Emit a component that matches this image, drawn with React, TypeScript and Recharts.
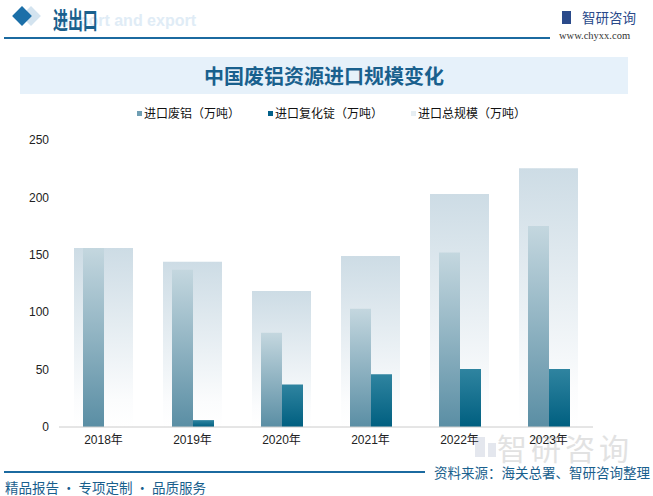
import React from 'react';
import { Bar, BarChart, XAxis, YAxis } from 'recharts';

const years = ['2018年', '2019年', '2020年', '2021年', '2022年', '2023年'];
const scrapAl = [156, 137, 82, 103, 152, 175];
const alloyIngot = [0, 6, 37, 46, 50.5, 50.5];
const totalScale = [156, 144, 118.5, 149, 203, 225.5];
const yTicks = [0, 50, 100, 150, 200, 250];

const seriesNames = ['进口废铝（万吨）', '进口复化锭（万吨）', '进口总规模（万吨）'];
const legendColors = ['#6f9eb3', '#03618a', '#e6eef3'];

const data = years.map((year, i) => ({
  year,
  scrap: scrapAl[i],
  alloy: alloyIngot[i],
  total: totalScale[i],
}));

const dark = '#19608d';
const cjk = '"Noto Sans CJK SC", "Noto Sans", sans-serif';
const tickFont = { fontSize: 12, fill: '#222', fontFamily: '"Liberation Sans", "Noto Sans CJK SC", sans-serif' };

const Header = () => (
  <>
    <div style={{ position: 'absolute', left: 24, top: 9, width: 14, height: 14, background: '#d3e3ef', transform: 'rotate(45deg)' }} />
    <div style={{ position: 'absolute', left: 15, top: 9, width: 14, height: 14, background: '#1b6fa8', transform: 'rotate(45deg)' }} />
    <div style={{ position: 'absolute', left: 60, top: 12, fontSize: 16, lineHeight: '18px', fontWeight: 700, color: '#e0ecf6', fontFamily: '"Liberation Sans", sans-serif', whiteSpace: 'nowrap' }}>
      import and export
    </div>
    <div style={{ position: 'absolute', left: 53, top: 4, fontSize: 24, lineHeight: '30px', fontWeight: 700, color: dark, fontFamily: cjk, transform: 'scaleX(0.62)', transformOrigin: 'left top', whiteSpace: 'nowrap' }}>进出口</div>
    <div style={{ position: 'absolute', left: 4, top: 37, width: 546, height: 2, background: '#1b6aa0' }} />
    <div style={{ position: 'absolute', left: 562, top: 11, width: 9, height: 13, background: '#2a4a8a' }} />
    <div style={{ position: 'absolute', left: 582, top: 8, fontSize: 13.5, lineHeight: '18px', color: '#2a4a8a', fontFamily: cjk }}>智研咨询</div>
    <div style={{ position: 'absolute', left: 559, top: 30, fontSize: 10.5, lineHeight: '12px', color: '#333', fontFamily: '"Liberation Serif", serif', whiteSpace: 'nowrap' }}>www.chyxx.com</div>
    <div style={{ position: 'absolute', left: 20, top: 57, width: 608, height: 37, background: '#e6f1fa' }} />
    <div style={{ position: 'absolute', left: 20, top: 57, width: 608, height: 37, lineHeight: '37px', textAlign: 'center', fontSize: 20, fontWeight: 700, color: dark, fontFamily: cjk }}>
      中国废铝资源进口规模变化
    </div>
  </>
);

const LegendRow = () => (
  <div style={{ position: 'absolute', left: 0, top: 105, width: 653, display: 'flex', justifyContent: 'center', gap: 28, fontSize: 12, lineHeight: '16px', color: '#111', fontFamily: cjk }}>
    {seriesNames.map((name, i) => (
      <span key={name} style={{ display: 'flex', alignItems: 'center', marginLeft: i === 0 ? 10 : 0 }}>
        <span style={{ width: 5, height: 5, background: legendColors[i], marginRight: 2, display: 'inline-block' }} />
        {name}
      </span>
    ))}
  </div>
);

const Watermark = () => (
  <>
    <div style={{ position: 'absolute', left: 475, top: 437, width: 10, height: 20, background: '#e4e7ee' }} />
    <div style={{ position: 'absolute', left: 488, top: 443, width: 8, height: 14, background: '#e4e7ee' }} />
    <div style={{ position: 'absolute', left: 497, top: 430, fontSize: 30, lineHeight: '34px', letterSpacing: 4, color: '#e2e2e2', fontFamily: cjk, whiteSpace: 'nowrap' }}>智研咨询</div>
  </>
);

const Footer = () => (
  <>
    <div style={{ position: 'absolute', left: 4, top: 471, width: 421, height: 2, background: '#1b6aa0' }} />
    <div style={{ position: 'absolute', right: 3, top: 463, fontSize: 13.5, lineHeight: '18px', color: dark, fontFamily: cjk, whiteSpace: 'nowrap' }}>资料来源：海关总署、智研咨询整理</div>
    <div style={{ position: 'absolute', left: 5, top: 478, fontSize: 13.5, lineHeight: '18px', color: dark, fontFamily: cjk, whiteSpace: 'nowrap' }}>精品报告 · 专项定制 · 品质服务</div>
  </>
);

export default function App() {
  return (
    <div style={{ position: 'absolute', left: 0, top: 0, width: 653, height: 496, background: '#fff', overflow: 'hidden' }}>
      <Header />
      <LegendRow />
      <Watermark />
      <div style={{ position: 'absolute', left: 0, top: 0 }}>
        <BarChart width={653} height={496} data={data} margin={{ top: 140, right: 0, bottom: 39, left: 0 }} barGap={0}>
          <defs>
            <linearGradient id="gTotal" x1="0" y1="0" x2="0" y2="1">
              <stop offset="0%" stopColor="#cddce5" />
              <stop offset="85%" stopColor="#fbfcfd" />
              <stop offset="100%" stopColor="#ffffff" />
            </linearGradient>
            <linearGradient id="gScrap" x1="0" y1="0" x2="0" y2="1">
              <stop offset="0%" stopColor="#c4d7df" />
              <stop offset="100%" stopColor="#5a8ea4" />
            </linearGradient>
            <linearGradient id="gAlloy" x1="0" y1="0" x2="0" y2="1">
              <stop offset="0%" stopColor="#2f84a0" />
              <stop offset="100%" stopColor="#005f80" />
            </linearGradient>
          </defs>
          <XAxis dataKey="year" xAxisId="bg" hide height={0} />
          <XAxis dataKey="year" xAxisId="main" tick={tickFont} tickLine={false} axisLine={{ stroke: '#ccc' }} height={30} />
          <YAxis yAxisId="left" orientation="left" domain={[0, 250]} ticks={yTicks} width={59} axisLine={false} tickLine={false} tickSize={10} tickMargin={0} tick={tickFont} />
          <YAxis yAxisId="right" orientation="right" domain={[0, 250]} ticks={yTicks} width={60} axisLine={false} tickLine={false} tick={{ ...tickFont, textAnchor: 'start' }} />
          <Bar dataKey="total" name={seriesNames[2]} xAxisId="bg" yAxisId="left" barSize={59} fill="url(#gTotal)" isAnimationActive={false} />
          <Bar dataKey="scrap" name={seriesNames[0]} xAxisId="main" yAxisId="left" barSize={21} fill="url(#gScrap)" isAnimationActive={false} />
          <Bar dataKey="alloy" name={seriesNames[1]} xAxisId="main" yAxisId="left" barSize={21} fill="url(#gAlloy)" isAnimationActive={false} />
        </BarChart>
      </div>
      <Footer />
    </div>
  );
}
